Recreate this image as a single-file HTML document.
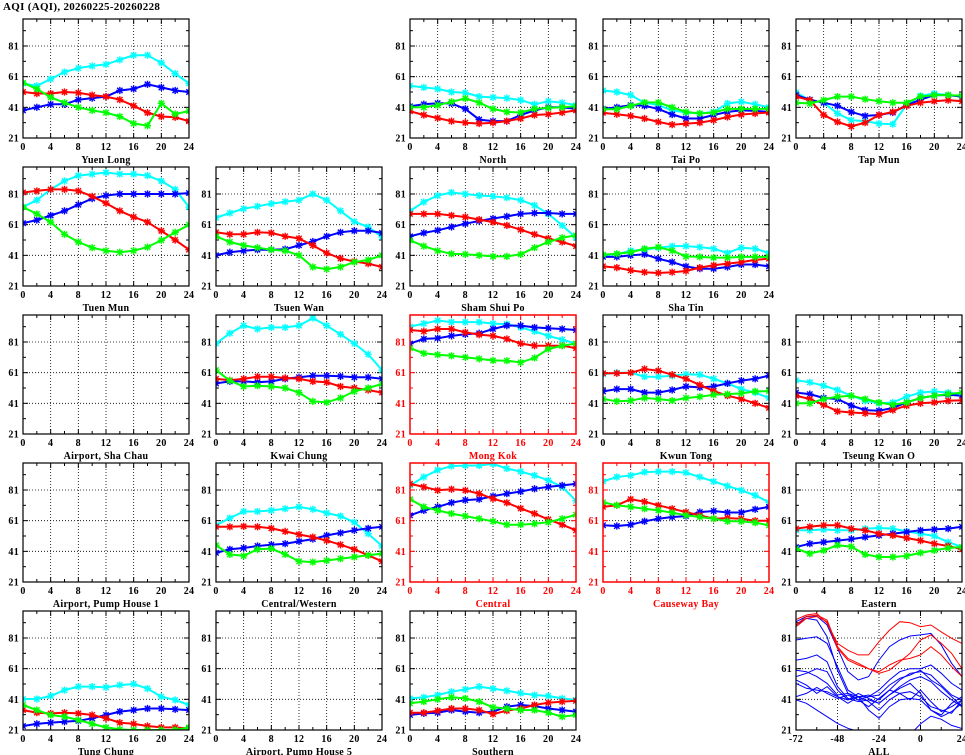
<!DOCTYPE html>
<html><head><meta charset="utf-8"><style>
html,body{margin:0;padding:0;background:#fff;}
svg{display:block;}
text{font-family:"Liberation Serif",serif;font-weight:bold;font-size:10px;letter-spacing:0.3px;}
</style></head><body>
<svg id="chart" width="965" height="755" viewBox="0 0 965 755">
<text x="3" y="10" style="font-size:11px">AQI (AQI), 20260225-20260228</text>
</svg>
<script>
const hours = [0,2,4,6,8,10,12,14,16,18,20,22,24];
const yTicks = [21,41,61,81];
const xTicks = [0,4,8,12,16,20,24];
const allTicks = [-72,-48,-24,0,24];
const allHours = [-72,-66,-60,-54,-48,-42,-36,-30,-24,-18,-12,-6,0,6,12,18,24];

const yuenLongCyan=[56.6,55,59.5,64,66.5,68,69,72,75,75,70,63,56.6];
const yuenLongBlue=[39,41,43,43,46,47,48,52,53,56,54,52,51];
const yuenLongRed=[51,50,50,51,50.5,49,48,46,42,37.5,35,34.5,32];
const yuenLongGreen=[57,53,47.5,44,41,39,37.5,35,30.5,29,43.6,36.6,38.6];
const northCyan=[55,54,53,51,50.5,48,47.5,47,45.7,43,45,44,42.4];
const northBlue=[41.7,43,43.7,43.5,40,33,32,32,36,39,41,41,40];
const northRed=[38.5,36,34,32,31,30.4,31,32,33.7,36,36.5,37.6,39];
const northGreen=[41,41,42.4,44.6,46.8,44,40,38,37.6,40,40.6,41,41.7];
const taiPoCyan=[52,51,49,44,42.4,39,37.6,37,38,43.5,44.6,43,41];
const taiPoBlue=[40,41,42.4,42,40,36.3,33.7,33.7,36,38,39,38.7,38];
const taiPoRed=[37.4,36.5,35.4,33.7,31.5,29.7,30.4,31,32.6,34.7,36.3,37,37.6];
const taiPoGreen=[39.8,39.8,42,44.2,44.2,41,38,37,37.6,40,40,40,40];
const tapMunCyan=[50.7,45.7,44,37,32.6,32,30.4,30,42.8,48.5,50,49,48];
const tapMunBlue=[49,46,44,42,38,35.4,36,37.6,42.4,46,49,49,48];
const tapMunRed=[48,45.7,36,31.5,28.6,31,36,38,42,44,45,45.7,45];
const tapMunGreen=[44,43.5,45.7,48,48,46.3,45,44,44,48,49,49,48.5];
const tuenMunCyan=[72.5,77,84,89.5,93,94,95,94,94,93,89.5,84,72.5];
const tuenMunBlue=[62,64,67,70,74,78,80,81,81,81,81,81,81.6];
const tuenMunRed=[82,83,84,84,83,79.5,75,70,66,62.7,57,51,44.7];
const tuenMunGreen=[72.5,68,62.7,54.7,49.7,46,44,43,44,46.4,50.8,56,61];
const tsuenWanCyan=[65.5,68.6,71.4,73,74.7,76,77,81,77,70,63,59.5,53];
const tsuenWanBlue=[41,43,44,44.7,44.7,45,47.5,50,53.4,56,57,57,55.6];
const tsuenWanRed=[56,54.7,54.7,56,55.6,53.4,52,47.5,42.5,39,37,35.6,33.4];
const tsuenWanGreen=[53.4,49.7,47.5,46,44.7,44,41,33.4,32,33.4,36.6,38,41];
const shamShuiPoCyan=[70,75.8,80,82,81,80,79.5,78.6,77,73.6,68,60.5,52.5];
const shamShuiPoBlue=[53.4,55.6,57.3,59.5,61.6,63.4,65,66.4,68,68.6,68.6,68,68];
const shamShuiPoRed=[68,68,68,67,66,64.3,62.7,60.5,57.7,54.7,52,49.7,47];
const shamShuiPoGreen=[50.8,47,44,42,41.7,41,40.3,40.3,41.7,46,49.7,52.5,54];
const shaTinCyan=[41,41.7,44,44.7,46,47,47,46.4,45.3,42.5,46,45.3,42.5];
const shaTinBlue=[40,40,41,41.7,38.8,36.6,33.8,32.3,32.3,33.4,35,35,33.8];
const shaTinRed=[33.8,33,31.2,30,29.5,30,30.8,33,34.5,35.6,36.6,38,38.8];
const shaTinGreen=[41.4,42,43,45.3,46.4,44,40.3,40,39.5,39.5,40,40,40];
const kwaiChungCyan=[80,86.7,91.7,89.5,90.5,90.5,91.7,96.6,91.7,86,80,73,62.7];
const kwaiChungBlue=[54,55.3,55.3,54.7,55.3,57,58,59,59,58.6,58,58,57];
const kwaiChungRed=[57,56,57,58.4,58.4,57.5,57,55.3,54.7,52,51,49.7,48];
const kwaiChungGreen=[62.7,55.8,52,52.5,52,51,48,42.3,41.6,44.5,48.8,51,53.6];
const mongKokCyan=[91,93,95,94,94,94,93,92.7,90.5,88,85,82.5,80];
const mongKokBlue=[80,83,83.5,85,86,86.7,89.5,91.7,91.7,90.5,90,89.5,88.8];
const mongKokRed=[88.8,88,89.5,89.5,87.3,85.8,85,83,80,78.6,78.6,78.6,77];
const mongKokGreen=[77,73.6,72.7,72,71,70,69,68.8,67.7,70.6,76.4,78.6,80];
const kwunTongCyan=[60,61,61,58.4,58.4,59,60,59.7,57,54,50.3,48,44.5];
const kwunTongBlue=[48.8,50.3,50.3,48,48,49.7,52,51.4,52,54,55.8,57,59];
const kwunTongRed=[60.6,60.6,61,63.4,62.3,59.7,57,53,49,46,43.8,41,38];
const kwunTongGreen=[43.8,42.3,42.8,44.5,43.8,42.8,44.5,45.3,46.6,47,47.5,48.8,49];
const tkoCyan=[56,54.7,52.5,49.7,46,42.7,41,41.6,45.3,48,48.8,48,47];
const tkoBlue=[48,47,44.5,43.8,39.5,36.6,36.2,38,41.6,44.5,46,46.6,46];
const tkoRed=[46,43.8,40,35.8,35,34.5,34,36.6,39.5,41,41.6,42.7,43];
const tkoGreen=[41,41,43.8,45.3,46,43.8,41.6,40,41.6,44.5,46,47,48];
const centralWesternCyan=[58,62.7,67,67,67.7,68.8,70,68.4,66,64,60,52.5,44.5];
const centralWesternBlue=[40,42.3,43.2,44.5,45.3,46,47.5,49,51.4,53,54.7,56,57];
const centralWesternRed=[57,57,57.3,57,56,54,52,50.3,48,45.3,42.3,38.4,34.5];
const centralWesternGreen=[45,39,38,42.3,42.8,39,34.5,34,35,36.2,37.3,38.4,39.5];
const centralCyan=[84,89.5,94,96.6,97,97,98,95,93,90.5,87.3,83,74];
const centralBlue=[64.5,67.7,70,72.7,74.4,75,77,78.6,80,81.8,83,84,85];
const centralRed=[85,83,80.8,81.5,80.8,78.6,75.3,72.7,69,65.6,61.8,58.4,54.7];
const centralGreen=[75,70,67.7,65.6,64,62.3,60.6,58.4,58.4,59,60,62.3,64.9];
const causewayBayCyan=[86.6,89.5,90.5,92.7,93,93,92.3,89.5,86.6,83.6,80.8,77.5,73];
const causewayBayBlue=[58,57.5,58.4,60.6,62.3,63.4,64,66.6,67.3,66.3,66.3,68.4,70];
const causewayBayRed=[70,71,75,73.4,71,68.8,66.6,64.5,62.3,62.7,62.3,61,61];
const causewayBayGreen=[73,71,70,68.8,67.7,66.2,64.5,63.4,62.3,60.6,60.6,59.7,58];
const easternCyan=[54.7,54.7,55.3,54.7,54.7,55.8,56.2,55.8,54,52.5,51,47,43.8];
const easternBlue=[43.8,46,47,48,49,50.3,51.4,52.5,53.6,54.7,55.3,55.8,57];
const easternRed=[55.8,57,58,58,55.8,54.7,52.5,51.4,49.7,48,46,44.5,42.3];
const easternGreen=[42.8,39.5,41.6,45,44,39,37.3,37.3,38,40,41.6,43.2,43.8];
const tungChungCyan=[41.2,41.2,43.2,47,49.3,49.3,48.8,50.3,51,48,42.7,40.6,37.3];
const tungChungBlue=[23.6,25,25.8,26.4,27,28.6,30.8,33,34,35,35,34.5,34];
const tungChungRed=[34,32.3,31.8,32.3,31.8,30.8,28.6,25.8,25,23.6,22.7,22.7,22];
const tungChungGreen=[37.3,34,30.8,29.7,27.5,25,22.7,21.4,21,21,21,21,22.7];
const southernCyan=[41.6,42.3,43.8,46,47.5,49.3,48,46.6,45,43.8,43.2,41.6,40.6];
const southernBlue=[30.8,31.8,32.3,34,33,32.3,33,36.2,37.3,36.6,35,34,33];
const southernRed=[32.3,32.3,33.6,35,35,34,31.4,33.6,35,37.3,38.8,39.5,40];
const southernGreen=[38.4,39.5,41,42.3,41.6,39.5,35.8,35,34,34,32.3,29.7,30.8];

const allRed1=[93,96,97,90.6,77.5,73,70,70,78.6,86,91.6,91,88.4,89.5,85,80.8,77.5];
const allRed2=[89.5,95,96,92.7,75.3,67.7,64.5,61,59,63.4,66.6,67.7,70,75.3,70,62.3,55.8];
const allRed3=[88.4,93.8,95,91.6,74.3,66.6,63.4,61,58,60,65.5,71,79.7,83,77.5,71,61];
const allBlue1=[91.6,95,95.3,89.5,74.3,59,53.6,55.8,66.6,75.3,79.7,82.3,83,84,76.4,64.5,55.8];
const allBlue2=[89.5,93.8,92.7,81.8,60,44.9,40.6,42.7,47,53.6,59,61,61,63.4,58,51.4,47];
const allBlue3=[79.7,80.8,81.8,77.5,62.3,47,42.7,43.8,40.6,47,53.6,58,59,56.9,50.3,43.8,40.6];
const allBlue4=[66.6,67.7,70,65.5,49.3,41.6,39.5,40.6,38.4,43.8,49.3,53.6,55.8,52.5,46,40.6,36.2];
const allBlue5=[55.8,58,61,59,47,40.6,42.7,39.5,34,40.6,44.9,46,42.7,36.2,34,31.9,40.6];
const allBlue6=[51.4,48.2,47,46,42.7,40.6,44.9,41.6,38.4,43.8,48.2,51.4,44.9,34,30.8,38.4,42.7];
const allBlue7=[42.7,44.9,48.8,44.9,41.6,43.8,40.6,36.2,41.6,47,44.9,40.6,47,39.5,33,36.2,40.6];
const allBlue8=[53.6,50.3,44.9,49.3,42.7,38.4,42.7,34,28.6,36.2,40.6,41.6,40.6,34,29.7,33,38.4];
const allBlue9=[40.6,38.4,34,29.7,25.3,22.1,20,18,18,18,18,18,25,30,28,24,22];
const allBlue10=[60,59,55.8,51.4,43.8,44.9,42.7,42.7,43.8,50.3,54.7,56.9,60,53.6,49.3,42.7,36.2];

const colLeft=[23,216,410,603,796];
const rowTop=[19,167,315,463,611];
const PW=166, PH=119, YMIN=21, PXU=92/60;
const NS="http://www.w3.org/2000/svg";
const svg=document.getElementById('chart');
function mk(tag,attrs,parent){const e=document.createElementNS(NS,tag);for(const k in attrs)e.setAttribute(k,attrs[k]);(parent||svg).appendChild(e);return e;}

function panel(col,row,title,series,isRed,isAll){
  const x0=colLeft[col], y0=rowTop[row], yb=y0+PH;
  const xmin=isAll?-72:0, xmax=24;
  const sx=v=>x0+(v-xmin)/(xmax-xmin)*PW;
  const sy=v=>yb-(v-YMIN)*PXU;
  const fc=isRed?'#ff0000':'#000';
  const g=mk('g',{});
  
  
  const cid='clip'+col+'_'+row;
  const cp=mk('clipPath',{id:cid},g); mk('rect',{x:x0,y:y0,width:PW,height:PH},cp);
  const xg=isAll?[-48,-24,0]:[4,8,12,16,20];
  xg.forEach(v=>mk('line',{x1:sx(v),x2:sx(v),y1:y0,y2:yb,stroke:'#000','stroke-width':0.8,'stroke-dasharray':'1,2'},g));
  [41,61,81].forEach(v=>mk('line',{x1:x0,x2:x0+PW,y1:sy(v),y2:sy(v),stroke:'#000','stroke-width':0.8,'stroke-dasharray':'1,2'},g));
  const xt=isAll?allTicks:xTicks, xm=isAll?[-60,-36,-12,12]:[2,6,10,14,18,22];
  xt.forEach(v=>{mk('line',{x1:sx(v),x2:sx(v),y1:yb,y2:yb-5,stroke:fc},g);mk('line',{x1:sx(v),x2:sx(v),y1:y0,y2:y0+5,stroke:fc},g);
    const t=mk('text',{x:sx(v),y:yb+12,'text-anchor':'middle',fill:fc},g);t.textContent=v;
    
    });
  xm.forEach(v=>{mk('line',{x1:sx(v),x2:sx(v),y1:yb,y2:yb-3,stroke:fc},g);mk('line',{x1:sx(v),x2:sx(v),y1:y0,y2:y0+3,stroke:fc},g);});
  yTicks.forEach(v=>{mk('line',{x1:x0,x2:x0+5,y1:sy(v),y2:sy(v),stroke:fc},g);mk('line',{x1:x0+PW,x2:x0+PW-5,y1:sy(v),y2:sy(v),stroke:fc},g);
    const t=mk('text',{x:x0-4,y:sy(v)+3.5,'text-anchor':'end',fill:fc},g);t.textContent=v;
    
    });
  [31,51,71,91].forEach(v=>{mk('line',{x1:x0,x2:x0+3,y1:sy(v),y2:sy(v),stroke:fc},g);mk('line',{x1:x0+PW,x2:x0+PW-3,y1:sy(v),y2:sy(v),stroke:fc},g);});
  const sg=mk('g',{'clip-path':'url(#'+cid+')'},g);
  series.forEach(s=>{
    const xs=isAll?allHours:hours;
    const pts=s.v.map((v,i)=>sx(xs[i]).toFixed(1)+','+sy(v).toFixed(1)).join(' ');
    const pl=mk('polyline',{points:pts,fill:'none',stroke:s.c,'stroke-width':isAll?1:2},sg);
    
    
    if(!isAll){s.v.forEach((v,i)=>{const cx=sx(xs[i]),cy=sy(v),r=3.6,d=2.7;
      const p=mk('path',{d:`M${cx-r},${cy}H${cx+r}M${cx},${cy-r}V${cy+r}M${cx-d},${cy-d}L${cx+d},${cy+d}M${cx-d},${cy+d}L${cx+d},${cy-d}`,stroke:s.c,'stroke-width':1.4,fill:'none'},sg);
      
      });}
  });
  mk('rect',{x:x0,y:y0,width:PW,height:PH,fill:'none',stroke:fc,'stroke-width':isRed?1.5:1.2},g);
  const tt=mk('text',{x:x0+PW/2,y:yb+25,'text-anchor':'middle',fill:fc},g);tt.textContent=title;
  
  
}
function S(c,b,r,gr){return [{n:'cyan',c:'#00ffff',v:c},{n:'blue',c:'#0000ff',v:b},{n:'red',c:'#ff0000',v:r},{n:'green',c:'#00ff00',v:gr}];}
panel(0,0,'Yuen Long',S(yuenLongCyan,yuenLongBlue,yuenLongRed,yuenLongGreen));
panel(2,0,'North',S(northCyan,northBlue,northRed,northGreen));
panel(3,0,'Tai Po',S(taiPoCyan,taiPoBlue,taiPoRed,taiPoGreen));
panel(4,0,'Tap Mun',S(tapMunCyan,tapMunBlue,tapMunRed,tapMunGreen));
panel(0,1,'Tuen Mun',S(tuenMunCyan,tuenMunBlue,tuenMunRed,tuenMunGreen));
panel(1,1,'Tsuen Wan',S(tsuenWanCyan,tsuenWanBlue,tsuenWanRed,tsuenWanGreen));
panel(2,1,'Sham Shui Po',S(shamShuiPoCyan,shamShuiPoBlue,shamShuiPoRed,shamShuiPoGreen));
panel(3,1,'Sha Tin',S(shaTinCyan,shaTinBlue,shaTinRed,shaTinGreen));
panel(0,2,'Airport, Sha Chau',[]);
panel(1,2,'Kwai Chung',S(kwaiChungCyan,kwaiChungBlue,kwaiChungRed,kwaiChungGreen));
panel(2,2,'Mong Kok',S(mongKokCyan,mongKokBlue,mongKokRed,mongKokGreen),true);
panel(3,2,'Kwun Tong',S(kwunTongCyan,kwunTongBlue,kwunTongRed,kwunTongGreen));
panel(4,2,'Tseung Kwan O',S(tkoCyan,tkoBlue,tkoRed,tkoGreen));
panel(0,3,'Airport, Pump House 1',[]);
panel(1,3,'Central/Western',S(centralWesternCyan,centralWesternBlue,centralWesternRed,centralWesternGreen));
panel(2,3,'Central',S(centralCyan,centralBlue,centralRed,centralGreen),true);
panel(3,3,'Causeway Bay',S(causewayBayCyan,causewayBayBlue,causewayBayRed,causewayBayGreen),true);
panel(4,3,'Eastern',S(easternCyan,easternBlue,easternRed,easternGreen));
panel(0,4,'Tung Chung',S(tungChungCyan,tungChungBlue,tungChungRed,tungChungGreen));
panel(1,4,'Airport, Pump House 5',[]);
panel(2,4,'Southern',S(southernCyan,southernBlue,southernRed,southernGreen));
const allBlues=[allBlue1,allBlue2,allBlue3,allBlue4,allBlue5,allBlue6,allBlue7,allBlue8,allBlue9,allBlue10];
const allReds=[allRed1,allRed2,allRed3];
panel(4,4,'ALL',allBlues.map(v=>({n:'blue',c:'#0000ff',v})).concat(allReds.map(v=>({n:'red',c:'#ff0000',v}))),false,true);
</script>
</body></html>
